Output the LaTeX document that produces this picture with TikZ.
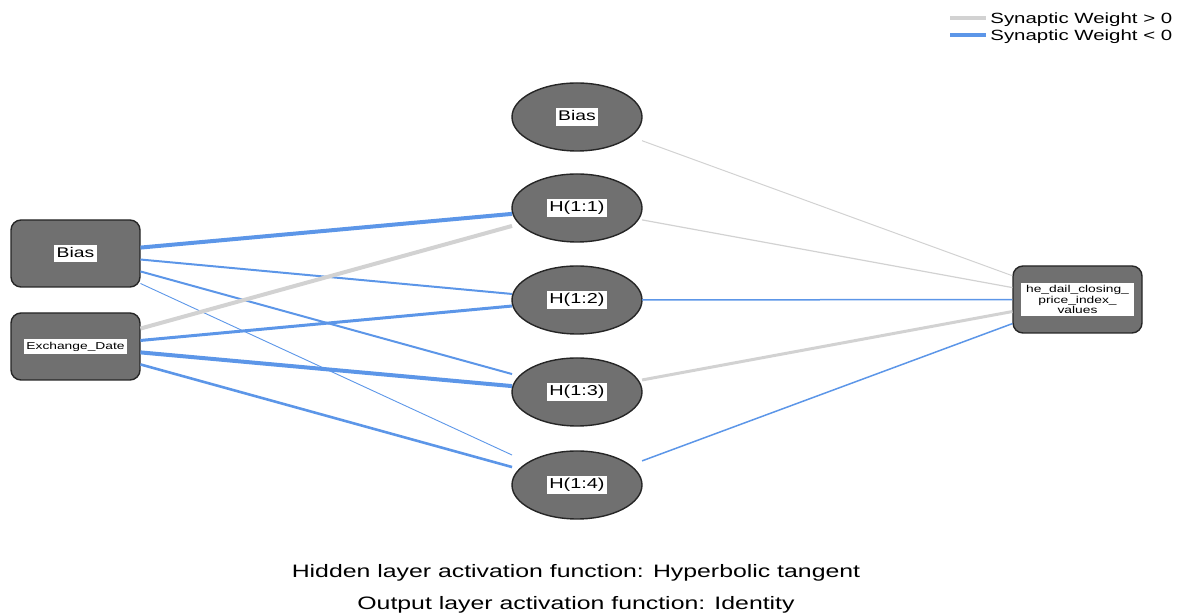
\documentclass[tikz,border=0pt]{standalone}
\usepackage{fontspec}
\setmainfont{Liberation Sans}
\usetikzlibrary{shapes.geometric,calc}
\definecolor{poscol}{RGB}{210,210,210}
\definecolor{negcol}{RGB}{92,150,232}
\definecolor{nodefill}{RGB}{112,112,112}
\newcommand\stretchx[1]{\scalebox{1.38}[1]{#1}}
\newcommand\lbl[2]{\colorbox{white}{\fontsize{#1}{#1}\selectfont\vphantom{(}\stretchx{#2}}}
\newcommand\wire[4]{\draw[#1] ($(#2)!#3!(#4)$) -- ($(#4)!#3!(#2)$);}
\tikzset{
  inbox/.style={draw=black!85, line width=0.7pt, fill=nodefill, rounded corners=5pt,
    minimum width=64.5pt, minimum height=33.5pt, inner sep=0pt},
  hid/.style={ellipse, draw=black!85, line width=0.7pt, fill=nodefill,
    minimum width=65pt, minimum height=34pt, inner sep=0pt},
  posw/.style={draw=poscol},
  negw/.style={draw=negcol},
  legtext/.style={anchor=west, inner sep=0pt, font=\fontsize{7.4pt}{8pt}\selectfont},
  captext/.style={inner sep=0pt, font=\fontsize{9pt}{11pt}\selectfont},
}
\setlength{\fboxsep}{1.2pt}
\begin{document}
\begin{tikzpicture}[x=0.5pt,y=-0.5pt]
\useasboundingbox (0,0) rectangle (1179,613);
% legend
\coordinate (la1) at (950,18); \coordinate (lb1) at (986,18);
\coordinate (la2) at (950,35); \coordinate (lb2) at (986,35);
\draw[posw, line width=2pt] (la1) -- (lb1);
\draw[negw, line width=2pt] (la2) -- (lb2);
\node[legtext] (lt1) at (990,19.5) {\stretchx{Synaptic Weight > 0}};
\node[legtext] (lt2) at (990,36.5) {\stretchx{Synaptic Weight < 0}};
% nodes
\node[inbox] (ib) at (75.5,253.5) {\lbl{7pt}{Bias}};
\node[inbox] (ex) at (75.5,346.5) {\lbl{5pt}{Exchange\_Date}};
\node[hid] (hb) at (577,117) {\lbl{7pt}{Bias}};
\node[hid] (h1) at (577,208) {\lbl{7.2pt}{H(1:1)}};
\node[hid] (h2) at (577,300) {\lbl{7.2pt}{H(1:2)}};
\node[hid] (h3) at (577,392) {\lbl{7.2pt}{H(1:3)}};
\node[hid] (h4) at (577,485) {\lbl{7.2pt}{H(1:4)}};
\node[inbox] (out) at (1077.5,299.5) {\colorbox{white}{\parbox{54pt}{\centering\fontsize{5pt}{5.3pt}\selectfont \stretchx{he\_dail\_closing\_}\\\stretchx{price\_index\_}\\\stretchx{values}}}};
% input -> hidden
\wire{negw, line width=2pt}{ib}{0.1295}{h1}
\wire{negw, line width=1pt}{ib}{0.1295}{h2}
\wire{negw, line width=1pt}{ib}{0.1295}{h3}
\wire{negw, line width=0.45pt}{ib}{0.1295}{h4}
\wire{posw, line width=2pt}{ex}{0.1295}{h1}
\wire{negw, line width=1.5pt}{ex}{0.1295}{h2}
\wire{negw, line width=2pt}{ex}{0.1295}{h3}
\wire{negw, line width=1.3pt}{ex}{0.1295}{h4}
% hidden -> output
\wire{posw, line width=0.5pt}{hb}{0.13}{out}
\wire{posw, line width=0.6pt}{h1}{0.13}{out}
\wire{negw, line width=0.75pt}{h2}{0.13}{out}
\wire{posw, line width=1.5pt}{h3}{0.13}{out}
\wire{negw, line width=0.75pt}{h4}{0.13}{out}
% captions
\node[captext] (c1) at (576,573) {\stretchx{Hidden layer activation function: Hyperbolic tangent}};
\node[captext] (c2) at (576,605) {\stretchx{Output layer activation function: Identity}};
\end{tikzpicture}
\end{document}
